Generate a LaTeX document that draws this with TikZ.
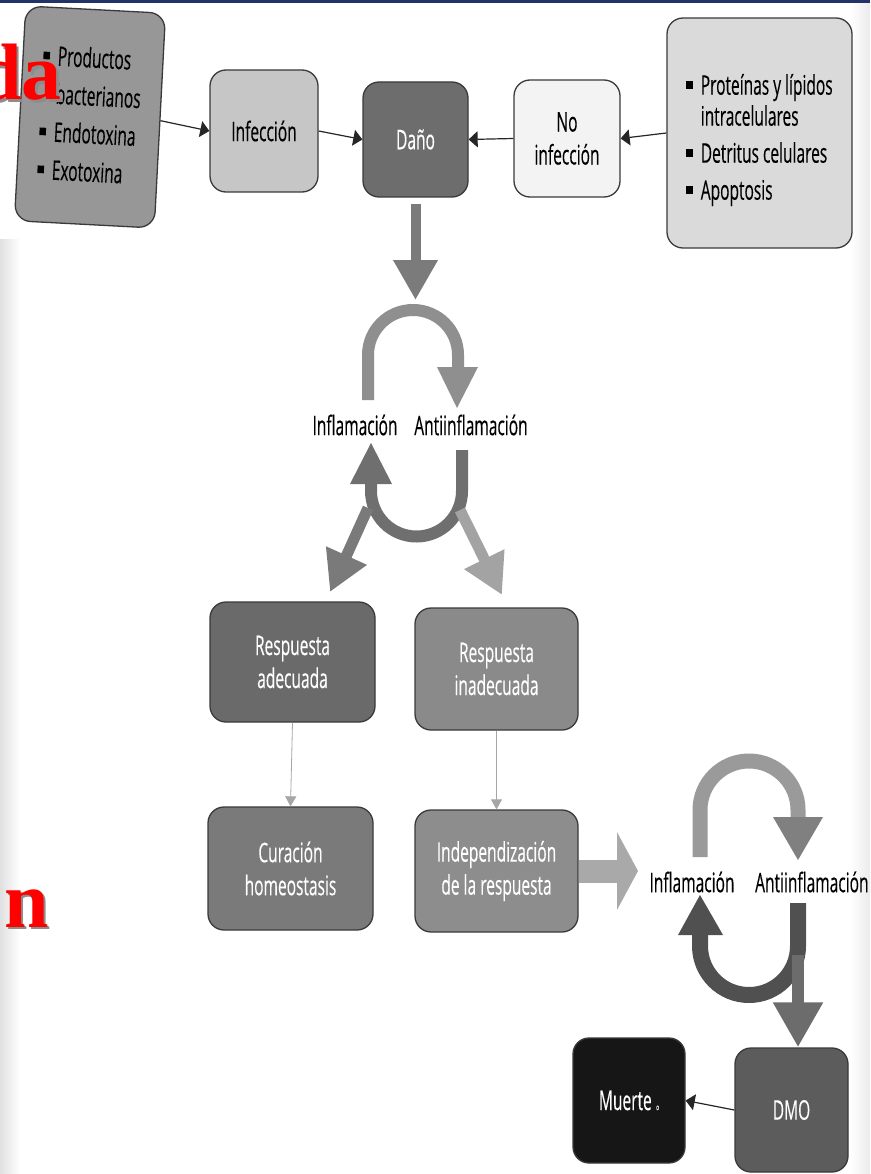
\documentclass[tikz,border=0pt]{standalone}
\usepackage{fontspec}
\setmainfont{Open Sans}[FakeStretch=0.575, FakeBold=0.25]
\newfontfamily\redserif{Liberation Serif}
\usetikzlibrary{arrows.meta}
\definecolor{navy}{HTML}{22336A}
\definecolor{bline}{HTML}{3A3A3A}
\definecolor{cProd}{HTML}{979797}
\definecolor{cInf}{HTML}{C6C6C6}
\definecolor{cDano}{HTML}{6D6D6D}
\definecolor{cNoinf}{HTML}{F3F3F3}
\definecolor{cProt}{HTML}{DADADA}
\definecolor{cRadec}{HTML}{6A6A6A}
\definecolor{cRinad}{HTML}{8A8A8A}
\definecolor{cCur}{HTML}{7A7A7A}
\definecolor{cIndep}{HTML}{8D8D8D}
\definecolor{cDMO}{HTML}{5C5C5C}
\definecolor{cMuerte}{HTML}{161616}
\definecolor{aDown}{HTML}{7B7B7B}
\definecolor{aTop}{HTML}{8F8F8F}
\definecolor{aBot}{HTML}{6F6F6F}
\definecolor{aDL}{HTML}{7A7A7A}
\definecolor{aDR}{HTML}{A3A3A3}
\definecolor{aInd}{HTML}{A9A9A9}
\definecolor{aTopB}{HTML}{9A9A9A}
\definecolor{aBotB}{HTML}{505050}
\definecolor{aDMO}{HTML}{6C6C6C}
\newcommand{\bsq}{\rule[0.22em]{0.24em}{0.28em}}
\begin{document}
\begin{tikzpicture}[x=1pt,y=-1pt,
  box/.style={draw=bline, line width=1.3pt, rounded corners=16pt, inner sep=0pt,
    align=center, font=\fontsize{27}{33}\selectfont},
  wtext/.style={text=white},
  lbl/.style={font=\fontsize{27}{30}\selectfont, inner sep=0pt},
  thinarrow/.style={draw=black!85, line width=1.2pt, -{Triangle[length=9pt,width=16pt]}},
  greyarrow/.style={draw=black!35, line width=0.8pt, -{Triangle[length=10pt,width=11pt]}},
  bigarrow/.style={line width=#1, -{Triangle[length=40pt,width=42pt]}},
  redfrag/.style={inner sep=0pt, font=\redserif\bfseries\fontsize{80}{80}\selectfont},
]
\useasboundingbox (0,0) rectangle (870,1174);
\clip (0,0) rectangle (870,1174);
\fill[white] (0,0) rectangle (870,1174);
% scan edges
\shade[left color=black!12, right color=white] (0,240) rectangle (20,1174);
\shade[left color=white, right color=black!8] (850,0) rectangle (870,1174);
\fill[navy] (0,0) rectangle (870,3);

% top row boxes
\node[box, fill=cProd, minimum width=140pt, minimum height=215pt, rotate=-3,
  font=\fontsize{27}{38}\selectfont] (prod) at (90,117) {%
  \begin{tabular}{@{}l@{\hspace{8pt}}l@{}}
  \bsq & Productos\\ & bacterianos\\ \bsq & Endotoxina\\ \bsq & Exotoxina
  \end{tabular}};
\node[box, fill=cInf, minimum width=108pt, minimum height=122pt] (inf) at (264,131) {Infección};
\node[box, fill=cDano, wtext, minimum width=105pt, minimum height=115pt] (dano) at (415.5,139.5) {Daño};
\node[box, fill=cNoinf, minimum width=106pt, minimum height=117pt] (noinf) at (567,138.5) {No\\infección};
\node[box, fill=cProt, minimum width=185pt, minimum height=230pt] (prot) at (759.5,133) {};
\node[lbl, font=\fontsize{27}{31}\selectfont] (prottxt) at ([yshift=-8pt]prot.center) {%
  \begin{tabular}{@{}l@{\hspace{8pt}}l@{}}
  \bsq & Proteínas y lípidos\\ & intracelulares\\[6pt] \bsq & Detritus celulares\\[6pt] \bsq & Apoptosis
  \end{tabular}};

\draw[thinarrow] (prod.east) -- (inf.west);
\draw[thinarrow] (inf.east) -- (dano.west);
\draw[thinarrow] (noinf.west) -- (dano.east);
\draw[thinarrow] (prot.west) -- (noinf.east);

% first cycle
\coordinate (c1in) at (415.5,300);
\draw[bigarrow=10pt, aDown, shorten <=6pt] (dano.south) -- (c1in);
\draw[line width=12pt, aTop] (368,400) -- (368,355) arc[start angle=180,end angle=0,radius=45pt] -- (458,368);
\fill[aTop] (437,367) -- (478,367) -- (457,408) -- cycle;
\node[lbl] (inf1) at (355,425) {Inflamación};
\node[lbl] (anti1) at (471,425) {Antiinflamación};
\draw[line width=12pt, aBot] (462,450) -- (462,491) arc[start angle=0,end angle=-180,radius=45.5pt] -- (371,484);
\fill[aBot] (350,484) -- (392,484) -- (371,443) -- cycle;
\coordinate (dlA) at (368,508);
\coordinate (dlB) at (330,592);
\coordinate (drA) at (460,510);
\coordinate (drB) at (502,595);
\draw[bigarrow=11pt, aDL] (dlA) -- (dlB);
\draw[bigarrow=11pt, aDR] (drA) -- (drB);

% second row
\node[box, fill=cRadec, wtext, minimum width=165pt, minimum height=120pt] (radec) at (292.5,662) {Respuesta\\adecuada};
\node[box, fill=cRinad, wtext, minimum width=163pt, minimum height=122pt] (rinad) at (496.5,669) {Respuesta\\inadecuada};
\node[box, fill=cCur, wtext, minimum width=165pt, minimum height=123pt] (cur) at (290.5,868.5) {Curación\\homeostasis};
\node[box, fill=cIndep, wtext, minimum width=163pt, minimum height=122pt] (indep) at (496.5,871) {Independización\\de la respuesta};
\draw[greyarrow] (radec.south) -- (cur.north);
\draw[greyarrow] (rinad.south) -- (indep.north);

% second cycle
\coordinate (c2in) at (638,871);
\draw[line width=23pt, aInd, -{Triangle[length=21pt,width=77pt]}] (indep.east) -- (c2in);
\draw[line width=15pt, aTopB] (700,857) -- (700,810) arc[start angle=180,end angle=0,radius=49pt] -- (798,818);
\fill[black!50] (773,817) -- (823,817) -- (798,860) -- cycle;
\node[lbl] (inf2) at (692,882) {Inflamación};
\node[lbl, anchor=west] (anti2) at (755,882) {Antiinflamación};
\draw[line width=16pt, aBotB] (798,903) -- (798,946) arc[start angle=0,end angle=-180,radius=49pt] -- (700,934);
\fill[aBotB] (678,935) -- (723,935) -- (700,895) -- cycle;

\node[box, fill=cDMO, wtext, minimum width=113pt, minimum height=124pt] (dmo) at (791.5,1110) {DMO};
\node[box, fill=cMuerte, wtext, minimum width=112pt, minimum height=125pt] (muerte) at (629,1100.5) {Muerte\,{\fontsize{8}{8}\selectfont o}};
\coordinate (c2out) at (798,955);
\draw[line width=12pt, aDMO, -{Triangle[length=45pt,width=47pt]}] (c2out) -- (dmo.north -| c2out);
\draw[thinarrow] (dmo.west) -- (muerte.east);

% red slide fragments
\node[redfrag, anchor=base east, text=black!45] (dash) at (64.5,102.5) {da};
\node[redfrag, anchor=base east, text=red] (da) at (62,100) {da};
\node[redfrag, anchor=base west, text=black!45] (nsh) at (6.5,929.5) {n};
\node[redfrag, anchor=base west, text=red] (n) at (4,927) {n};
\end{tikzpicture}
\end{document}
